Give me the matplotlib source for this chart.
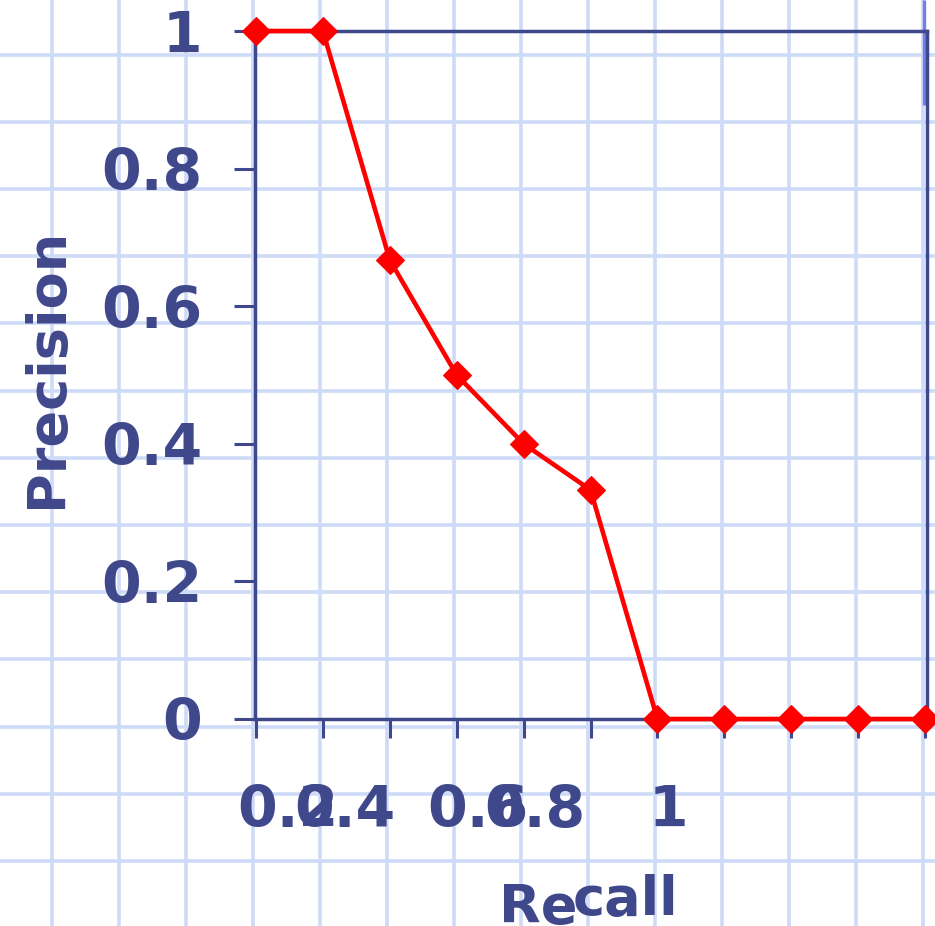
import matplotlib
matplotlib.use("Agg")
import matplotlib.pyplot as plt
import numpy as np

# ---- data ----
precision = [1.0, 1.0, 0.667, 0.5, 0.4, 0.333, 0.0, 0.0, 0.0, 0.0, 0.0]
recall_tick_labels = ["0.2", "0.4", "0.6", "0.8", "1"]
y_ticks = [0, 0.2, 0.4, 0.6, 0.8, 1.0]
y_tick_labels = ["0", "0.2", "0.4", "0.6", "0.8", "1"]

W, H = 935, 926
TXT = "#40488C"
GRID = "#CEDBF8"
RED = "#FF0000"
FONT = "DejaVu Sans"

fig = plt.figure(figsize=(W / 100, H / 100), dpi=100)
fig.patch.set_facecolor("white")

# background graph-paper
bg = fig.add_axes([0, 0, 1, 1], zorder=0)
bg.set_xlim(0, W)
bg.set_ylim(H, 0)
bg.axis("off")
for k in range(14):
    bg.axvline(52 + 67 * k, color=GRID, lw=2.6)
for k in range(13):
    bg.axhline(54.5 + 67.2 * k, color=GRID, lw=2.6)
bg.plot([924, 924], [0, 105], color="#7080E8", lw=2.4, solid_capstyle="butt")

# main axes
L, R, T, B = 255, 927, 31, 719
ax = fig.add_axes([L / W, (H - B) / H, (R - L) / W, (B - T) / H], zorder=2)
ax.set_facecolor("none")
x = np.arange(len(precision))
step = (925 - 256) / 10
ax.set_xlim((L - 256) / step, (R - 256) / step)
ax.set_ylim(0, 1)

for s in ax.spines.values():
    s.set_color(TXT)
    s.set_linewidth(2.5)

ax.set_xticks(x)
ax.set_xticklabels([])
ax.tick_params(axis="x", direction="out", length=14, width=2.2, color=TXT)
ax.set_yticks(y_ticks)
ax.set_yticklabels(y_tick_labels, fontsize=41, fontweight="bold",
                   color=TXT, family=FONT)
ax.tick_params(axis="y", direction="out", length=15, width=2.2, color=TXT, pad=23)

ax.plot(x, precision, color=RED, lw=3.3, marker="D", ms=14, mec=RED,
        mew=0.8, clip_on=False, zorder=5)

# x tick labels (as placed in the original)
lab_px = [237, 294, 427, 484, 649]
for lab, px in zip(recall_tick_labels, lab_px):
    fig.text(px / W, 1 - 827 / H, lab, fontsize=41, fontweight="bold",
             color=TXT, family=FONT, ha="left", va="baseline")

# axis titles
fig.text(499 / W, 1 - 923 / H, "Re", fontsize=39, fontweight="bold",
         color=TXT, family=FONT, ha="left", va="baseline")
fig.text(573 / W, 1 - 915 / H, "call", fontsize=39, fontweight="bold",
         color=TXT, family=FONT, ha="left", va="baseline")
fig.text(62 / W, 1 - 367.5 / H, "Precision", fontsize=39, fontweight="bold",
         color=TXT, family=FONT, rotation=90, rotation_mode="anchor",
         ha="center", va="baseline")

fig.savefig("out.png", dpi=100, facecolor="white")
